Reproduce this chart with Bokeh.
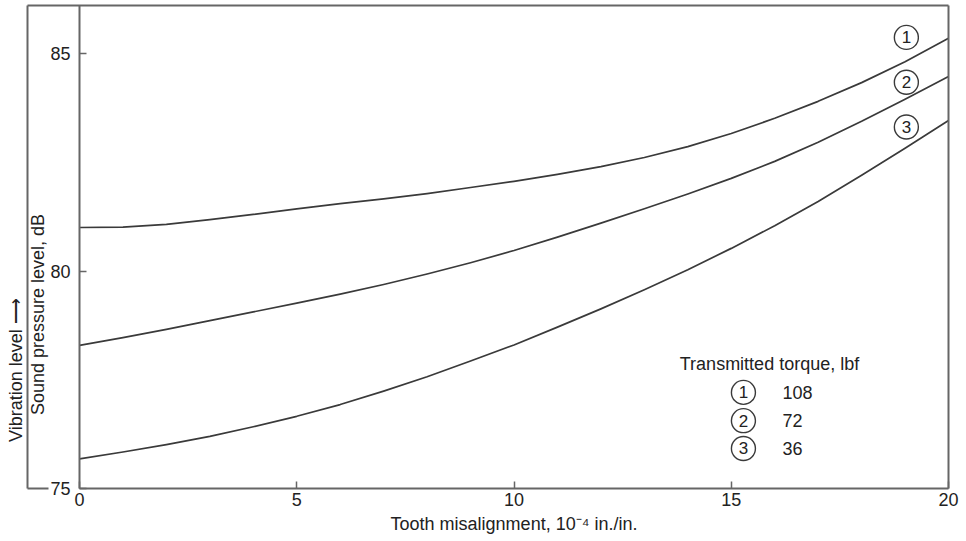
import math
from bokeh.plotting import figure
from bokeh.models import LinearAxis, FixedTicker, Range1d, Label, ColumnDataSource
from bokeh.core.properties import value
from bokeh.embed import file_html
from bokeh.resources import INLINE

# ---------------- data ----------------
misalignment = [0, 1, 2, 3, 4, 5, 6, 7, 8, 9, 10, 11, 12, 13, 14, 15, 16, 17, 18, 19, 20]
spl_108 = [81.00, 81.01, 81.07, 81.18, 81.30, 81.43, 81.55, 81.66, 81.78, 81.92, 82.06,
           82.22, 82.40, 82.61, 82.86, 83.16, 83.51, 83.90, 84.33, 84.81, 85.35]
spl_72 = [78.29, 78.47, 78.66, 78.86, 79.06, 79.26, 79.47, 79.69, 79.93, 80.19, 80.47,
          80.78, 81.10, 81.43, 81.77, 82.13, 82.52, 82.96, 83.44, 83.95, 84.47]
spl_36 = [75.68, 75.84, 76.01, 76.20, 76.42, 76.66, 76.93, 77.24, 77.57, 77.93, 78.30,
          78.71, 79.13, 79.57, 80.03, 80.52, 81.04, 81.60, 82.20, 82.82, 83.46]

curve_ids = ["1", "2", "3"]
torques = ["108", "72", "36"]
x_ticks = [0, 5, 10, 15, 20]
y_ticks = [75, 80, 85]

x_title = "Tooth misalignment, 10\u207b\u2074 in./in."
y_title = "Sound pressure level, dB"
y_title_outer = "Vibration level  \u27f6"
legend_title = "Transmitted torque, lbf"

# ---------------- layout constants ----------------
X_START, X_END = -1.818, 20.276
Y_START, Y_END = 73.92, 86.218
Y_TOP = 86.10
BRACKET_X = -1.197
BRACKET_END = -0.713

FRAME = "#666666"
CURVE = "#3a3a3a"
TEXT = "#222222"
FONT = "Liberation Sans"
FS = "18px"

p = figure(width=960, height=535,
           x_range=Range1d(X_START, X_END), y_range=Range1d(Y_START, Y_END),
           x_axis_type=None, y_axis_type=None,
           output_backend="svg", toolbar_location=None,
           min_border_left=0, min_border_right=0, min_border_top=0, min_border_bottom=0)
p.outline_line_color = None
p.background_fill_color = "white"
p.border_fill_color = "white"


def plain_axis(loc, bounds):
    return LinearAxis(fixed_location=loc, bounds=bounds, ticker=FixedTicker(ticks=[]),
                      axis_line_color=FRAME, axis_line_width=2,
                      major_tick_line_color=None, minor_tick_line_color=None,
                      major_label_text_font_size="0px")


# outer bracket / frame lines
p.add_layout(plain_axis(Y_TOP, (BRACKET_X, 20)), "above")
p.add_layout(plain_axis(20, (75, Y_TOP)), "right")
p.add_layout(plain_axis(BRACKET_X, (75, Y_TOP)), "left")
p.add_layout(plain_axis(75, (BRACKET_X, BRACKET_END)), "below")

# main x axis
xax = LinearAxis(fixed_location=75, bounds=(0, 20), ticker=FixedTicker(ticks=x_ticks),
                 axis_line_color=FRAME, axis_line_width=2,
                 major_tick_line_color=FRAME, major_tick_line_width=1.5,
                 major_tick_in=7, major_tick_out=0, minor_tick_line_color=None,
                 major_label_standoff=4, major_label_text_font=FONT,
                 major_label_text_font_size=FS, major_label_text_color=TEXT,
                 axis_label=x_title, axis_label_standoff=5,
                 axis_label_text_font=FONT, axis_label_text_font_size=FS,
                 axis_label_text_font_style="normal", axis_label_text_color=TEXT)
p.add_layout(xax, "below")

# main y axis
yax = LinearAxis(fixed_location=0, bounds=(75, Y_TOP), ticker=FixedTicker(ticks=y_ticks),
                 axis_line_color=FRAME, axis_line_width=2,
                 major_tick_line_color=FRAME, major_tick_line_width=1.5,
                 major_tick_in=7, major_tick_out=0, minor_tick_line_color=None,
                 major_label_standoff=9, major_label_text_font=FONT,
                 major_label_text_font_size=FS, major_label_text_color=TEXT)
p.add_layout(yax, "left")

# curves
for ys in (spl_108, spl_72, spl_36):
    p.line(misalignment, ys, line_color=CURVE, line_width=1.7, line_join="round")

# circled curve ids at the right ends
tag_x = 19.03
tag_dy = [0.02, -0.13, -0.15]
ends = [spl_108[-1], spl_72[-1], spl_36[-1]]
tag_src = ColumnDataSource(dict(x=[tag_x] * 3,
                                y=[e + d for e, d in zip(ends, tag_dy)],
                                t=curve_ids))
p.scatter("x", "y", source=tag_src, marker="circle", size=24, fill_color=None,
          line_color=CURVE, line_width=1.4)
p.text("x", "y", text="t", source=tag_src, text_align="center", text_baseline="middle",
       text_font=value(FONT), text_font_size="17px", text_color=TEXT)

# legend block
leg_x, leg_title_y = 15.88, 77.87
leg_ys = [77.21, 76.56, 75.92]
p.text([leg_x], [leg_title_y], text=[legend_title], text_align="center",
       text_baseline="middle", text_font=value(FONT), text_font_size=FS,
       text_color=TEXT)
leg_src = ColumnDataSource(dict(cx=[15.28] * 3, nx=[16.18] * 3, y=leg_ys,
                                t=curve_ids, v=torques))
p.scatter("cx", "y", source=leg_src, marker="circle", size=24, fill_color=None,
          line_color=CURVE, line_width=1.4)
p.text("cx", "y", text="t", source=leg_src, text_align="center", text_baseline="middle",
       text_font=value(FONT), text_font_size="17px", text_color=TEXT)
p.text("nx", "y", text="v", source=leg_src, text_align="left", text_baseline="middle",
       text_font=value(FONT), text_font_size=FS, text_color=TEXT)

# rotated y titles
p.add_layout(Label(x=-0.944, y=79.0, text=y_title, angle=math.pi / 2,
                   text_align="center", text_baseline="middle", text_font=FONT,
                   text_font_size=FS, text_color=TEXT))
p.add_layout(Label(x=-1.45, y=77.78, text=y_title_outer, angle=math.pi / 2,
                   text_align="center", text_baseline="middle", text_font=FONT,
                   text_font_size=FS, text_color=TEXT))

open("out.html", "w").write(file_html(p, INLINE))
